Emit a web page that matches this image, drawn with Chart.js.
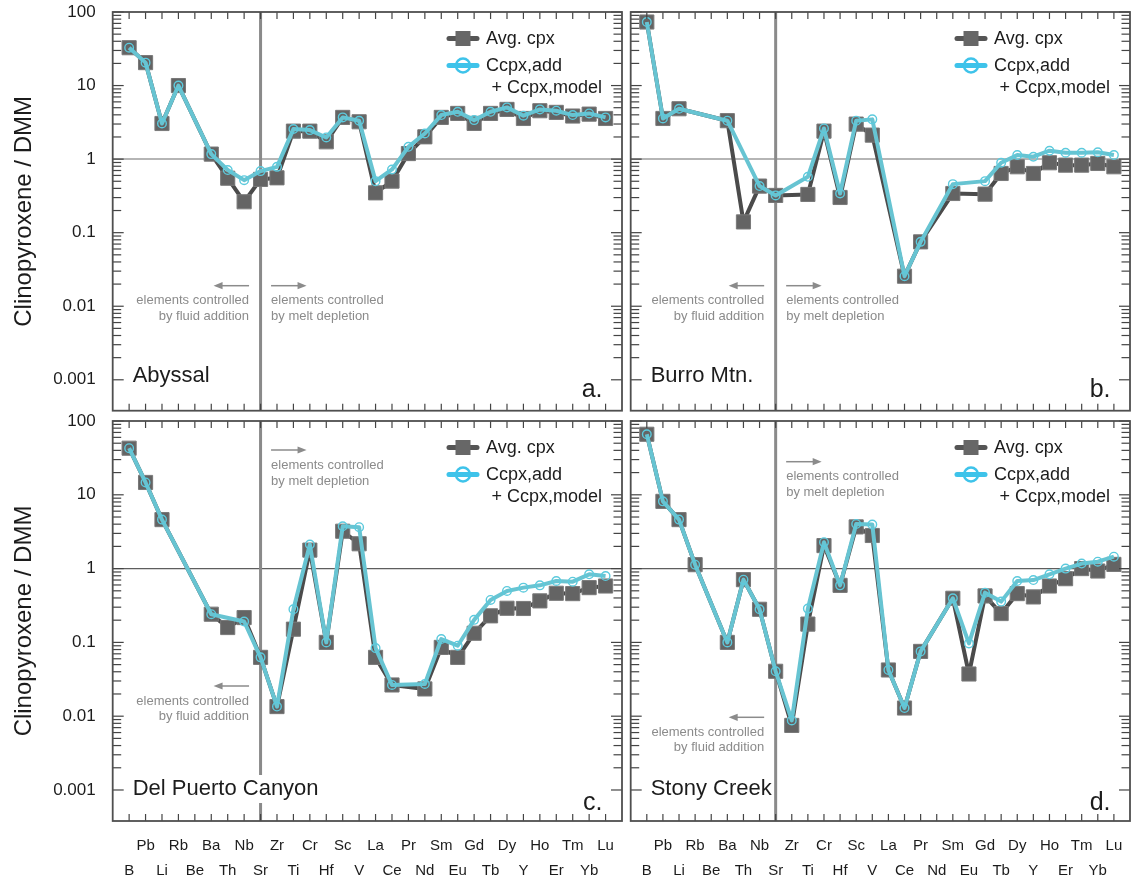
<!DOCTYPE html>
<html>
<head>
<meta charset="utf-8">
<title>Clinopyroxene / DMM</title>
<script src="https://cdn.jsdelivr.net/npm/chart.js@4.4.1/dist/chart.umd.min.js"></script>
<style>
  html, body { margin: 0; padding: 0; background: #ffffff; }
  #wrap { position: relative; width: 1141px; height: 881px; overflow: hidden; background: #ffffff; }
  #wrap canvas { position: absolute; left: 0; top: 0; }
</style>
</head>
<body>
<div id="wrap">
  <canvas id="panelA" width="1141" height="881"></canvas>
  <canvas id="panelB" width="1141" height="881"></canvas>
  <canvas id="panelC" width="1141" height="881"></canvas>
  <canvas id="panelD" width="1141" height="881"></canvas>
</div>
<script>
// Element order along the x axis
const elements = ['B','Pb','Li','Rb','Be','Ba','Th','Nb','Sr','Zr','Ti','Cr','Hf','Sc','V','La','Ce','Pr','Nd','Sm','Eu','Gd','Tb','Dy','Y','Ho','Er','Tm','Yb','Lu'];

// Log axis decade ticks
const yTickValues = [0.001, 0.01, 0.1, 1, 10, 100];
const yTickLabels = ['0.001', '0.01', '0.1', '1', '10', '100'];

// Abyssal peridotites
const abyssalAvg   = [32.7, 20.5, 3.05, 10.0, null, 1.17, 0.55, 0.263, 0.53, 0.557, 2.40, 2.40, 1.72, 3.69, 3.22, 0.348, 0.502, 1.19, 2.01, 3.69, 4.18, 3.06, 4.18, 4.74, 3.57, 4.55, 4.32, 3.85, 4.09, 3.57];
const abyssalModel = [32.7, 20.5, 3.05, 10.0, null, 1.17, 0.71, 0.518, 0.687, 0.785, 2.56, 2.48, 1.97, 3.69, 3.32, 0.502, 0.723, 1.47, 2.23, 3.97, 4.40, 3.39, 4.40, 5.05, 3.89, 4.74, 4.55, 3.97, 4.18, 3.69];

// Burro Mountain
const burroAvg   = [73.1, 3.57, 4.84, null, null, 3.33, 0.140, 0.430, 0.321, null, 0.331, 2.40, 0.301, 2.99, 2.12, null, 0.0256, 0.075, null, 0.341, null, 0.334, 0.638, 0.787, 0.638, 0.892, 0.828, 0.828, 0.873, 0.787];
const burroModel = [73.1, 3.57, 4.84, null, null, 3.33, null, 0.430, 0.321, null, 0.575, 2.61, 0.341, 3.33, 3.47, null, 0.0256, 0.075, null, 0.457, null, 0.502, 0.892, 1.135, 1.077, 1.30, 1.22, 1.22, 1.24, 1.135];

// Del Puerto Canyon
const delPuertoAvg   = [42.8, 14.7, 4.61, null, null, 0.241, 0.159, 0.217, 0.0627, 0.0135, 0.151, 1.78, 0.100, 3.21, 2.17, 0.0627, 0.0265, null, 0.0234, 0.0855, 0.0627, 0.133, 0.229, 0.290, 0.288, 0.365, 0.463, 0.458, 0.552, 0.581];
const delPuertoModel = [42.8, 14.7, 4.61, null, null, 0.241, null, 0.192, 0.0627, 0.0135, 0.281, 2.12, 0.100, 3.75, 3.64, 0.0837, 0.0265, null, 0.0273, 0.111, 0.0902, 0.202, 0.376, 0.498, 0.552, 0.593, 0.679, 0.665, 0.836, 0.793];

// Stony Creek
const stonyAvg   = [66.1, 8.15, 4.61, 1.13, null, 0.100, 0.708, 0.281, 0.0406, 0.0075, 0.177, 2.05, 0.593, 3.67, 2.81, 0.0423, 0.0129, 0.0755, null, 0.396, 0.0373, 0.426, 0.246, 0.458, 0.413, 0.581, 0.730, 1.00, 0.927, 1.14];
const stonyModel = [66.1, 8.15, 4.61, 1.13, null, 0.100, 0.708, 0.281, 0.0406, 0.00875, 0.287, 2.28, 0.593, 4.03, 3.95, 0.0423, 0.0129, 0.0755, null, 0.396, 0.0969, 0.472, 0.357, 0.679, 0.700, 0.836, 1.00, 1.17, 1.24, 1.45];

const FONT = "'Liberation Sans', Arial, Helvetica, sans-serif";
const TEXT = '#1c1c1c';
const NOTE = '#8b8b8b';
const Y_MIN = 0.00038, Y_MAX = 100;

Chart.defaults.font.family = FONT;

const panels = [
  { id: 'panelA', site: 'Abyssal', letter: 'a.', avg: abyssalAvg, model: abyssalModel,
    box: { l: 112.7, t: 12, r: 622, b: 410.7 }, yAxis: true, xAxis: false,
    unity: { color: '#9c9c9c', width: 1.5 }, siteBase: 29, letterBase: 14,
    melt: { arrow: 273.7, text: [288.7, 304] }, fluid: { arrow: 273.7, text: [288.7, 304] } },
  { id: 'panelB', site: 'Burro Mtn.', letter: 'b.', avg: burroAvg, model: burroModel,
    box: { l: 630.7, t: 12, r: 1139.3, b: 410.7 }, yAxis: false, xAxis: false,
    unity: { color: '#9c9c9c', width: 1.5 }, siteBase: 29, letterBase: 14,
    melt: { arrow: 273.7, text: [288.7, 304] }, fluid: { arrow: 273.7, text: [288.7, 304] } },
  { id: 'panelC', site: 'Del Puerto Canyon', letter: 'c.', avg: delPuertoAvg, model: delPuertoModel,
    box: { l: 112.7, t: 421, r: 622, b: 821 }, yAxis: true, xAxis: true,
    unity: { color: '#5e5e5e', width: 1.1 }, siteBase: 26, letterBase: 11,
    melt: { arrow: 29, text: [44, 60] }, fluid: { arrow: 265, text: [280.7, 295.7] } },
  { id: 'panelD', site: 'Stony Creek', letter: 'd.', avg: stonyAvg, model: stonyModel,
    box: { l: 630.7, t: 421, r: 1139.3, b: 821 }, yAxis: false, xAxis: true,
    unity: { color: '#5e5e5e', width: 1.1 }, siteBase: 26, letterBase: 11,
    melt: { arrow: 40.7, text: [55.7, 71.3] }, fluid: { arrow: 296.3, text: [311.3, 326.7] } }
];

function toPoints(values) {
  return elements.map((el, i) => ({ x: i, y: values[i] }));
}

function hLine(ctx, x1, x2, y) {
  ctx.beginPath(); ctx.moveTo(x1, y); ctx.lineTo(x2, y); ctx.stroke();
}
function vLine(ctx, x, y1, y2) {
  ctx.beginPath(); ctx.moveTo(x, y1); ctx.lineTo(x, y2); ctx.stroke();
}

// Thin horizontal arrow from tail to head
function arrow(ctx, tail, head, y) {
  const dir = Math.sign(head - tail);
  ctx.beginPath(); ctx.moveTo(tail, y); ctx.lineTo(head - dir * 6, y); ctx.stroke();
  ctx.beginPath();
  ctx.moveTo(head, y);
  ctx.lineTo(head - dir * 9, y - 3.6);
  ctx.lineTo(head - dir * 9, y + 3.6);
  ctx.closePath(); ctx.fill();
}

function panelDecor(p) {
  return {
    id: 'decor_' + p.id,
    beforeDatasetsDraw(chart) {
      const { ctx, chartArea: a, scales: { x, y } } = chart;
      ctx.save();
      // DMM = 1 reference line
      ctx.strokeStyle = p.unity.color;
      ctx.lineWidth = p.unity.width;
      hLine(ctx, a.left, a.right, y.getPixelForValue(1));
      // boundary between fluid-controlled and melt-controlled elements
      ctx.strokeStyle = '#8a8a8a';
      ctx.lineWidth = 3;
      vLine(ctx, x.getPixelForValue(elements.indexOf('Sr')), a.top, a.bottom);
      ctx.restore();
    },
    afterDraw(chart) {
      const { ctx, chartArea: a, scales: { x, y } } = chart;
      ctx.save();

      // inward tick marks on all four sides
      ctx.strokeStyle = '#444444';
      ctx.lineWidth = 1.2;
      elements.forEach((el, i) => {
        const px = x.getPixelForValue(i);
        vLine(ctx, px, a.top, a.top + 7);
        vLine(ctx, px, a.bottom, a.bottom - 7);
      });
      for (let k = -3; k <= 1; k++) {
        for (let m = 1; m <= 9; m++) {
          const v = m * Math.pow(10, k);
          if (v < 0.001 || v > Y_MAX) continue;
          const py = y.getPixelForValue(v);
          const len = m === 1 ? 11 : 8.5;
          hLine(ctx, a.left, a.left + len, py);
          hLine(ctx, a.right, a.right - len, py);
        }
      }
      {
        const py = y.getPixelForValue(100);
        hLine(ctx, a.left, a.left + 11, py);
        hLine(ctx, a.right, a.right - 11, py);
      }

      // panel frame
      ctx.strokeStyle = '#4f4f4f';
      ctx.lineWidth = 1.8;
      ctx.strokeRect(a.left, a.top, a.right - a.left, a.bottom - a.top);

      // annotations either side of Sr
      const sx = x.getPixelForValue(elements.indexOf('Sr'));
      ctx.strokeStyle = NOTE;
      ctx.fillStyle = NOTE;
      ctx.lineWidth = 1.5;
      arrow(ctx, sx - 11.5, sx - 47, a.top + p.fluid.arrow);
      arrow(ctx, sx + 10.5, sx + 46, a.top + p.melt.arrow);
      ctx.font = '13px ' + FONT;
      ctx.textBaseline = 'middle';
      ctx.textAlign = 'right';
      ctx.fillText('elements controlled', sx - 11.5, a.top + p.fluid.text[0]);
      ctx.fillText('by fluid addition', sx - 11.5, a.top + p.fluid.text[1]);
      ctx.textAlign = 'left';
      ctx.fillText('elements controlled', sx + 10.5, a.top + p.melt.text[0]);
      ctx.fillText('by melt depletion', sx + 10.5, a.top + p.melt.text[1]);

      // legend
      const lx1 = a.right - 173, lx2 = a.right - 145, lcx = (lx1 + lx2) / 2;
      const ly1 = a.top + 26.5, ly2 = a.top + 53.5;
      ctx.lineCap = 'round';
      ctx.strokeStyle = '#555555';
      ctx.lineWidth = 5;
      hLine(ctx, lx1, lx2, ly1);
      ctx.fillStyle = '#676767';
      ctx.fillRect(lcx - 7.5, ly1 - 7.5, 15, 15);
      ctx.strokeStyle = '#3ec3ea';
      ctx.lineWidth = 5;
      hLine(ctx, lx1, lx2, ly2);
      ctx.lineWidth = 2.5;
      ctx.beginPath(); ctx.arc(lcx, ly2, 7, 0, Math.PI * 2); ctx.stroke();
      ctx.lineCap = 'butt';
      ctx.fillStyle = TEXT;
      ctx.font = '18px ' + FONT;
      ctx.textAlign = 'left';
      ctx.textBaseline = 'alphabetic';
      ctx.fillText('Avg. cpx', a.right - 136, a.top + 32);
      ctx.fillText('Ccpx,add', a.right - 136, a.top + 59);
      ctx.fillText('+ Ccpx,model', a.right - 130.5, a.top + 80.7);

      // locality name on a white ground
      ctx.font = '22px ' + FONT;
      const sxl = a.left + 20, sb = a.bottom - p.siteBase;
      const w = ctx.measureText(p.site).width;
      ctx.fillStyle = '#ffffff';
      ctx.fillRect(sxl - 2, sb - 20, w + 3, 28);
      ctx.fillStyle = TEXT;
      ctx.fillText(p.site, sxl, sb);

      // panel letter
      ctx.font = '25px ' + FONT;
      ctx.textAlign = 'right';
      ctx.fillText(p.letter, a.right - 19.5, a.bottom - p.letterBase);

      ctx.restore();
    }
  };
}

function buildChart(p) {
  return new Chart(document.getElementById(p.id), {
    type: 'line',
    data: {
      datasets: [
        {
          label: 'Avg. cpx',
          data: toPoints(p.avg),
          order: 1,
          borderColor: '#4b4b4b',
          borderWidth: 4,
          borderJoinStyle: 'round',
          pointStyle: 'rect',
          pointRadius: 10,
          pointBackgroundColor: '#646464',
          pointBorderColor: '#797979',
          pointBorderWidth: 1,
          spanGaps: true,
          tension: 0
        },
        {
          label: 'Ccpx,add + Ccpx,model',
          data: toPoints(p.model),
          order: 0,
          borderColor: '#67c4d2',
          borderWidth: 4,
          borderJoinStyle: 'round',
          pointStyle: 'circle',
          pointRadius: 4.3,
          pointBackgroundColor: 'rgba(0,0,0,0)',
          pointBorderColor: '#5ccadd',
          pointBorderWidth: 1.4,
          spanGaps: true,
          tension: 0
        }
      ]
    },
    options: {
      responsive: false,
      animation: false,
      devicePixelRatio: 1,
      events: [],
      layout: {
        padding: {
          left: p.yAxis ? 0 : p.box.l,
          top: p.box.t,
          right: 1141 - p.box.r,
          bottom: p.xAxis ? 0 : 881 - p.box.b
        }
      },
      plugins: { legend: { display: false }, tooltip: { enabled: false } },
      scales: {
        x: {
          type: 'linear',
          bounds: 'data',
          min: -1,
          max: 30,
          display: p.xAxis,
          afterBuildTicks: s => { s.ticks = elements.map((el, i) => ({ value: i })); },
          afterFit: s => {
            if (p.xAxis) s.height = 60;
            s.paddingLeft = 0; s.paddingRight = 0;
          },
          grid: { drawOnChartArea: false, drawTicks: true, tickLength: 12.5, tickColor: 'rgba(0,0,0,0)' },
          border: { display: false },
          ticks: {
            autoSkip: false,
            maxRotation: 0,
            minRotation: 0,
            padding: 0,
            color: TEXT,
            font: { family: FONT, size: 15, lineHeight: 1.667 },
            callback: (v) => {
              const name = elements[v];
              if (name === undefined) return '';
              return v % 2 === 1 ? [name, ''] : ['', name];
            }
          }
        },
        y: {
          type: 'logarithmic',
          bounds: 'data',
          min: Y_MIN,
          max: Y_MAX,
          display: p.yAxis,
          afterBuildTicks: s => { s.ticks = yTickValues.map(v => ({ value: v })); },
          afterFit: s => {
            if (p.yAxis) s.width = p.box.l;
            s.paddingTop = 0; s.paddingBottom = 0;
          },
          grid: { display: false, drawTicks: false },
          border: { display: false },
          ticks: {
            padding: 17,
            color: TEXT,
            font: { family: FONT, size: 17 },
            callback: v => {
              const k = yTickValues.findIndex(t => Math.abs(t - v) / t < 1e-6);
              return k >= 0 ? yTickLabels[k] : '';
            }
          },
          title: {
            display: true,
            text: 'Clinopyroxene / DMM',
            color: TEXT,
            font: { family: FONT, size: 24 },
            padding: { top: 10, bottom: 0 }
          }
        }
      }
    },
    plugins: [panelDecor(p)]
  });
}

panels.forEach(buildChart);
</script>
</body>
</html>
